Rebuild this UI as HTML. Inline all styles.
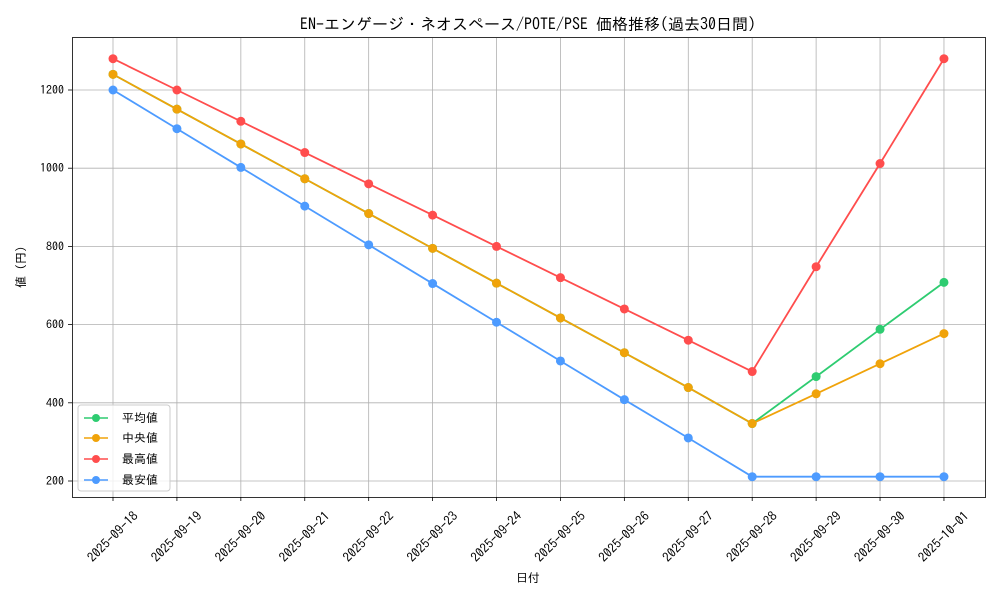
<!DOCTYPE html>
<html><head><meta charset="utf-8"><style>
body{margin:0;background:#fff}
svg text{font-family:"IPAGothic","Noto Sans CJK JP",sans-serif;fill:#000}
</style></head><body>
<svg width="1000" height="600" viewBox="0 0 1000 600" xmlns="http://www.w3.org/2000/svg">
<rect width="1000" height="600" fill="#fff"/>
<text x="528" y="30" font-size="16" text-anchor="middle">EN-エンゲージ・ネオスペース/POTE/PSE 価格推移(過去30日間)</text>
<g stroke="#b0b0b0" stroke-width="0.8" id="grid"></g>
<rect x="72.5" y="37.5" width="913" height="460" fill="none" stroke="#000" stroke-width="0.8"/>
<g id="ticks"></g>
<g id="series"></g>
<text x="528" y="582" font-size="12" text-anchor="middle">日付</text>
<text transform="translate(25,267) rotate(-90)" font-size="12" text-anchor="middle">値 (円)</text>
<g>
<rect x="78" y="405" width="92" height="86" rx="3" fill="#fff" fill-opacity="0.8" stroke="#ccc"/>
<line x1="84" y1="418" x2="108" y2="418" stroke="#2ecc71" stroke-width="1.5"/><circle cx="96" cy="418" r="4" fill="#2ecc71"/><text x="122" y="422" font-size="12">平均値</text>
<line x1="84" y1="438" x2="108" y2="438" stroke="#f0a30a" stroke-width="1.5"/><circle cx="96" cy="438" r="4" fill="#f0a30a"/><text x="122" y="442" font-size="12">中央値</text>
<line x1="84" y1="459" x2="108" y2="459" stroke="#ff4d4d" stroke-width="1.5"/><circle cx="96" cy="459" r="4" fill="#ff4d4d"/><text x="122" y="463" font-size="12">最高値</text>
<line x1="84" y1="480" x2="108" y2="480" stroke="#4d9bff" stroke-width="1.5"/><circle cx="96" cy="480" r="4" fill="#4d9bff"/><text x="122" y="484" font-size="12">最安値</text>
</g>
</svg>
<script>
const ns="http://www.w3.org/2000/svg";
function el(p,t,a,txt){const e=document.createElementNS(ns,t);for(const k in a)e.setAttribute(k,a[k]);if(txt)e.textContent=txt;document.getElementById(p).appendChild(e);return e;}
const X=i=>113+i*63.92, Y=v=>481-(v-200)*0.391;
const dates=["2025-09-18","2025-09-19","2025-09-20","2025-09-21","2025-09-22","2025-09-23","2025-09-24","2025-09-25","2025-09-26","2025-09-27","2025-09-28","2025-09-29","2025-09-30","2025-10-01"];
dates.forEach((d,i)=>{const x=X(i);el("grid","line",{x1:x,x2:x,y1:38,y2:497});
el("ticks","line",{x1:x,x2:x,y1:497,y2:501,stroke:"#000","stroke-width":0.8});
el("ticks","text",{x:0,y:4,"font-size":13,"text-anchor":"middle",transform:`translate(${x},${537}) rotate(-45)`},d);});
[200,400,600,800,1000,1200].forEach(v=>{const y=Y(v);el("grid","line",{x1:72,x2:985,y1:y,y2:y});
el("ticks","line",{x1:68,x2:72,y1:y,y2:y,stroke:"#000","stroke-width":0.8});
el("ticks","text",{x:64,y:y+4,"font-size":12,"text-anchor":"end"},String(v));});
const S=[
["#4d9bff",[1200,1101,1002,903,804,705,606,507,408,310,211,211,211,211]],
["#ff4d4d",[1280,1200,1120,1040,960,880,800,720,640,560,480,748,1012,1280]],
["#2ecc71",[1240,1151,1062,973,884,795,706,617,528,439,347,467,588,708]],
["#f0a30a",[1240,1151,1062,973,884,795,706,617,528,439,347,423,500,577]]];
S.forEach(([c,d])=>{el("series","polyline",{points:d.map((v,i)=>X(i)+","+Y(v)).join(" "),fill:"none",stroke:c,"stroke-width":1.8});
d.forEach((v,i)=>el("series","circle",{cx:X(i),cy:Y(v),r:4.5,fill:c}));});
</script>
</body></html>
